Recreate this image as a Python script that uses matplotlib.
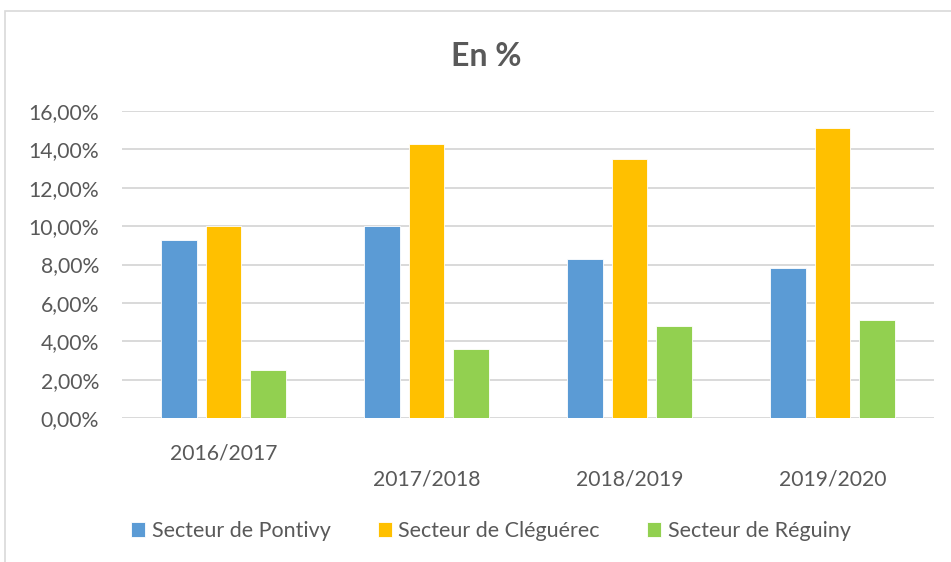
import numpy as np
import matplotlib
matplotlib.use("Agg")
import matplotlib.pyplot as plt
from matplotlib.ticker import FuncFormatter
from matplotlib.patches import Rectangle

# Data (percentages)
years = ["2016/2017", "2017/2018", "2018/2019", "2019/2020"]
pontivy = [9.3, 10.0, 8.3, 7.8]
cleguerec = [10.0, 14.3, 13.5, 15.1]
reguiny = [2.5, 3.6, 4.8, 5.1]

series_names = ["Secteur de Pontivy", "Secteur de Cléguérec", "Secteur de Réguiny"]
colors = ["#5B9BD5", "#FFC000", "#92D050"]
text_color = "#595959"

plt.rcParams["font.family"] = ["Lato", "DejaVu Sans"]

fig = plt.figure(figsize=(9.51, 5.62), dpi=100)
ax = fig.add_axes([122 / 951, 1 - 418 / 562, 812 / 951, 307 / 562])

x = np.arange(len(years))
width = 0.175
offsets = [-0.22, 0.0, 0.22]
for vals, off, col, name in zip([pontivy, cleguerec, reguiny], offsets, colors, series_names):
    ax.bar(x + off, vals, width=width, color=col, edgecolor="white", linewidth=0.6, label=name, zorder=3)

ax.set_xlim(-0.5, 3.5)
ax.set_ylim(0, 16)
ax.set_yticks(np.arange(0, 17, 2))
ax.yaxis.set_major_formatter(FuncFormatter(lambda v, p: f"{v:.2f}%".replace(".", ",")))
ax.grid(axis="y", color="#D9D9D9", linewidth=1.4, zorder=0)
for s in ax.spines.values():
    s.set_visible(False)

# Excel put the later labels on a second line
ax.set_xticks(x)
ax.set_xticklabels([years[0]] + ["\n" + y for y in years[1:]])
for lbl in ax.get_xticklabels():
    lbl.set_linespacing(1.4)
ax.tick_params(axis="both", length=0, labelsize=15.2, labelcolor=text_color)
ax.tick_params(axis="x", pad=18)
ax.tick_params(axis="y", pad=16.5)

fig.text(486 / 951, 1 - 57 / 562, "En %", ha="center", va="center",
         fontsize=23, fontweight="bold", color=text_color)

fig.legend(loc="center", bbox_to_anchor=(491 / 951, 1 - 531 / 562), ncol=3, frameon=False,
           handlelength=0.65, handleheight=0.65, handletextpad=0.3, columnspacing=2.2,
           fontsize=15.5, labelcolor=text_color)

# chart area border (partly cut off on right/bottom)
fig.patches.append(Rectangle((5 / 951, -0.1), 1.2, 1.1 - 11 / 562, transform=fig.transFigure,
                             fill=False, edgecolor="#D9D9D9", linewidth=1.2))

fig.savefig("out.png", dpi=100)
